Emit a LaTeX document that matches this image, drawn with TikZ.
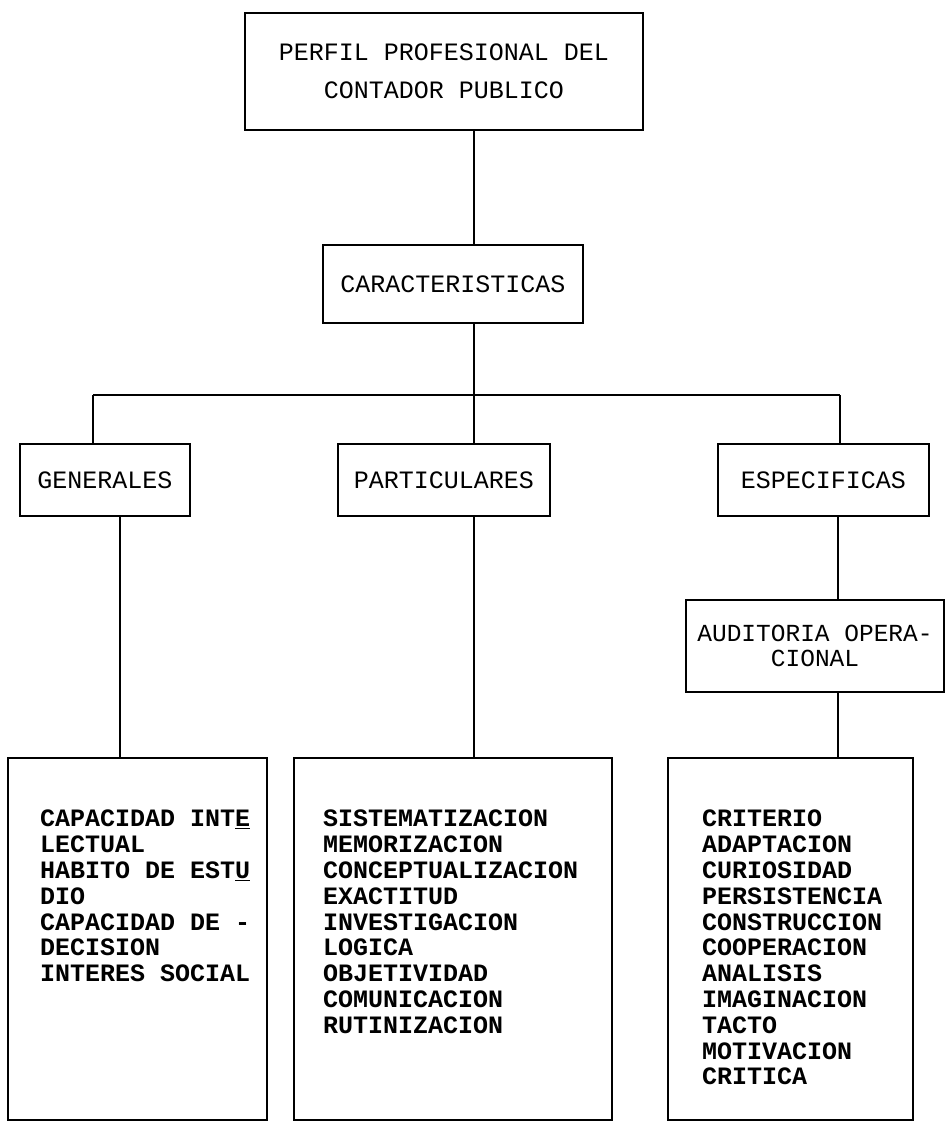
\documentclass[tikz,border=0pt]{standalone}
\usepackage{fontspec}
\newfontfamily\typer{Liberation Mono}
\begin{document}
\begin{tikzpicture}[x=1pt,y=-1pt,
  frame/.style={draw, line width=1.2pt, rectangle, inner sep=0pt},
  headtext/.style={font=\typer\fontsize{25}{38}\selectfont},
  lbltext/.style={font=\typer\fontsize{25}{22}\selectfont},
  twoline/.style={font=\typer\fontsize{24.5}{25.5}\selectfont},
  itemtext/.style={font=\typer\bfseries\fontsize{25}{25.8}\selectfont,
                   align=left, anchor=north west, inner sep=0pt},
  wire/.style={line width=1.2pt}]
\useasboundingbox (0,0) rectangle (949,1123);

% --- boxes ---
\node[frame, headtext, align=left, minimum width=398pt, minimum height=117pt] (top) at (444,71.5)
      {PERFIL PROFESIONAL DEL\\\phantom{PER}CONTADOR PUBLICO};
\node[frame, lbltext, minimum width=260pt, minimum height=78pt] (car) at (453,284) {CARACTERISTICAS};

\node[frame, lbltext, minimum width=170pt, minimum height=72pt] (gen) at (105,480) {GENERALES};
\node[frame, lbltext, minimum width=212pt, minimum height=72pt] (par) at (444,480) {PARTICULARES};
\node[frame, lbltext, minimum width=211pt, minimum height=72pt] (esp) at (823.5,480) {ESPECIFICAS};

\node[frame, twoline, align=center, minimum width=258pt, minimum height=92pt] (aud) at (815,646)
      {AUDITORIA OPERA-\\CIONAL};

\node[frame, minimum width=259pt, minimum height=362pt] (lgen) at (137.5,939) {};
\node[frame, minimum width=318pt, minimum height=362pt] (lpar) at (453,939) {};
\node[frame, minimum width=245pt, minimum height=362pt] (lesp) at (790.5,939) {};

% --- lists ---
\node[itemtext] (tgen) at (40,810)
  {CAPACIDAD INT\underline{E}\\LECTUAL\\HABITO DE EST\underline{U}\\DIO\\CAPACIDAD DE -\\DECISION\\INTERES SOCIAL};
\node[itemtext] (tpar) at (323,810)
  {SISTEMATIZACION\\MEMORIZACION\\CONCEPTUALIZACION\\EXACTITUD\\INVESTIGACION\\LOGICA\\OBJETIVIDAD\\COMUNICACION\\RUTINIZACION};
\node[itemtext] (tesp) at (702,810)
  {CRITERIO\\ADAPTACION\\CURIOSIDAD\\PERSISTENCIA\\CONSTRUCCION\\COOPERACION\\ANALISIS\\IMAGINACION\\TACTO\\MOTIVACION\\CRITICA};

% --- connectors ---
\coordinate (mid) at (474,395);
\coordinate (busL) at (93,395);
\coordinate (busR) at (840,395);
\coordinate (dropG) at (120,0);
\coordinate (dropE) at (838,0);

\draw[wire] (top.south -| mid) -- (car.north -| mid);
\draw[wire] (car.south -| mid) -- (mid);
\draw[wire] (busL) -- (busR);
\draw[wire] (busL) -- (gen.north -| busL);
\draw[wire] (mid) -- (par.north -| mid);
\draw[wire] (busR) -- (esp.north -| busR);

\draw[wire] (gen.south -| dropG) -- (lgen.north -| dropG);
\draw[wire] (par.south -| mid) -- (lpar.north -| mid);
\draw[wire] (esp.south -| dropE) -- (aud.north -| dropE);
\draw[wire] (aud.south -| dropE) -- (lesp.north -| dropE);
\end{tikzpicture}
\end{document}
